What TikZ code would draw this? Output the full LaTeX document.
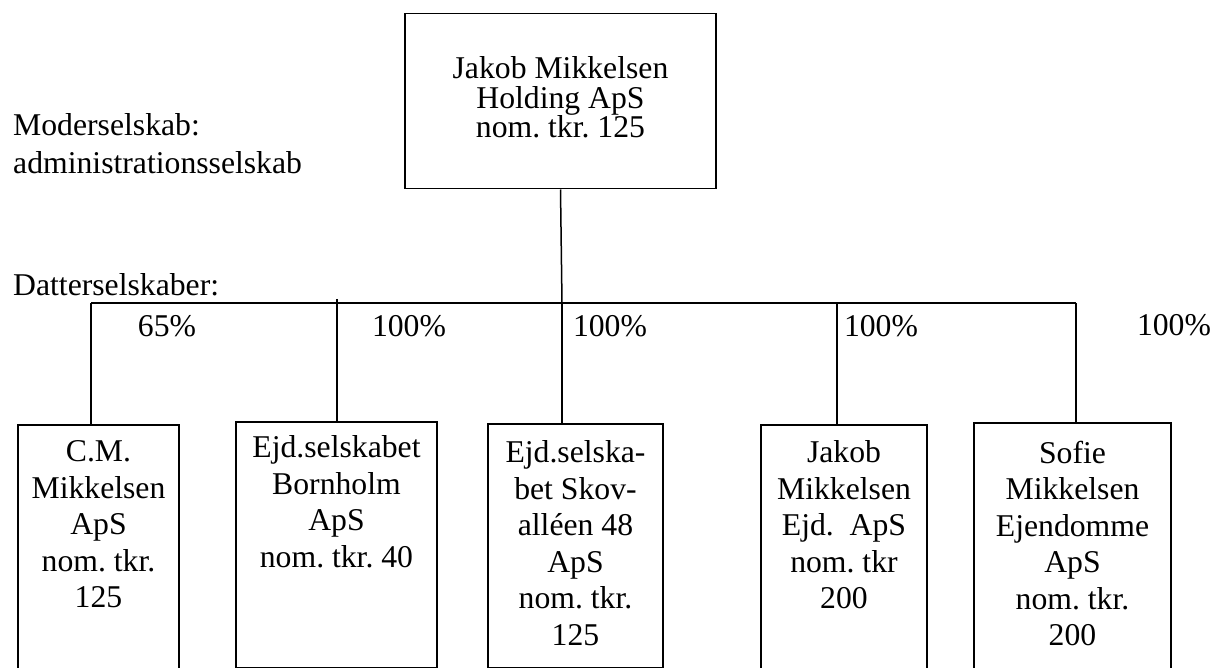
\documentclass[tikz,border=0pt]{standalone}
\usepackage{fontspec}
\setmainfont{Liberation Serif}
\frenchspacing
\usetikzlibrary{positioning}

\begin{document}
\begin{tikzpicture}[x=1pt, y=1pt,
	firm/.style={draw, line width=1.5pt, inner sep=0pt, anchor=north},
	firmtext/.style={inner sep=0pt, align=center, font=\fontsize{31.7}{36.5}\selectfont},
	pct/.style={inner sep=0pt, font=\fontsize{31.7}{36.5}\selectfont},
	side/.style={inner sep=0pt, anchor=west, font=\fontsize{31.7}{36.5}\selectfont},
	link/.style={line width=1.5pt}]
			\useasboundingbox (0.000, 0.000) rectangle (1213.000, -668.000);
			\clip (0.000, 0.000) rectangle (1213.000, -668.000);
			% boxes
			\node[firm, minimum width=311pt, minimum height=175pt] (top) at ( 560.500,  -13.000) {};
			\node[firm, minimum width=161pt, minimum height=300pt] (cm) at (  98.500, -424.000) {};
			\node[firm, minimum width=201pt, minimum height=245.5pt] (bornholm) at ( 336.500, -421.000) {};
			\node[firm, minimum width=175pt, minimum height=243.5pt] (skov) at ( 575.500, -423.000) {};
			\node[firm, minimum width=166pt, minimum height=300pt] (jakob) at ( 844.000, -424.000) {};
			\node[firm, minimum width=197pt, minimum height=300pt] (sofie) at (1072.500, -422.000) {};
			% texts in the boxes
			\node[firmtext, font=\fontsize{31.7}{29.5}\selectfont, below=43.5pt of top.north] (toptxt) {Jakob Mikkelsen\\Holding ApS\\nom. tkr. 125};
			\node[firmtext, below=16.5pt of cm.north] (cmtxt) {C.M.\\Mikkelsen\\ApS\\nom. tkr.\\125};
			\node[firmtext, below=14.5pt of bornholm.north] (bornholmtxt) {Ejd.selskabet\\Bornholm\\ApS\\nom. tkr. 40};
			\node[firmtext, below=17.5pt of skov.north] (skovtxt) {Ejd.selska-\\bet Skov-\\alléen 48\\ApS\\nom. tkr.\\125};
			\node[firmtext, below=16.5pt of jakob.north] (jakobtxt) {Jakob\\Mikkelsen\\Ejd.\ \ ApS\\nom. tkr\\200};
			\node[firmtext, below=18.5pt of sofie.north] (sofietxt) {Sofie\\Mikkelsen\\Ejendomme\\ApS\\nom. tkr.\\200};
			% left labels
			\node[side] (moder) at (  13.000, -125.000) {Moderselskab:};
			\node[side] (admin) at (  13.000, -163.000) {administrationsselskab};
			\node[side] (datter) at (  13.000, -285.000) {Datterselskaber:};
			% shares
			\node[pct] (p1) at ( 167.000, -326.000) {65\%};
			\node[pct] (p2) at ( 409.000, -326.000) {100\%};
			\node[pct] (p3) at ( 610.000, -326.000) {100\%};
			\node[pct] (p4) at ( 881.000, -326.000) {100\%};
			\node[pct] (p5) at (1174.000, -325.000) {100\%};
			% bus
			\coordinate (j1) at (  91.000, -303.000);
			\coordinate (j2) at ( 337.000, -299.000);
			\coordinate (jt) at ( 562.000, -303.000);
			\coordinate (j4) at ( 837.000, -303.000);
			\coordinate (j5) at (1076.000, -303.000);
			\draw[-, link] (j1) to (j5);
			\draw[-, link] (top.south) to (jt);
			\draw[-, link] (j1) to (j1 |- cm.north);
			\draw[-, link] (j2) to (j2 |- bornholm.north);
			\draw[-, link] (jt) to (jt |- skov.north);
			\draw[-, link] (j4) to (j4 |- jakob.north);
			\draw[-, link] (j5) to (j5 |- sofie.north);
		\end{tikzpicture}
\end{document}
